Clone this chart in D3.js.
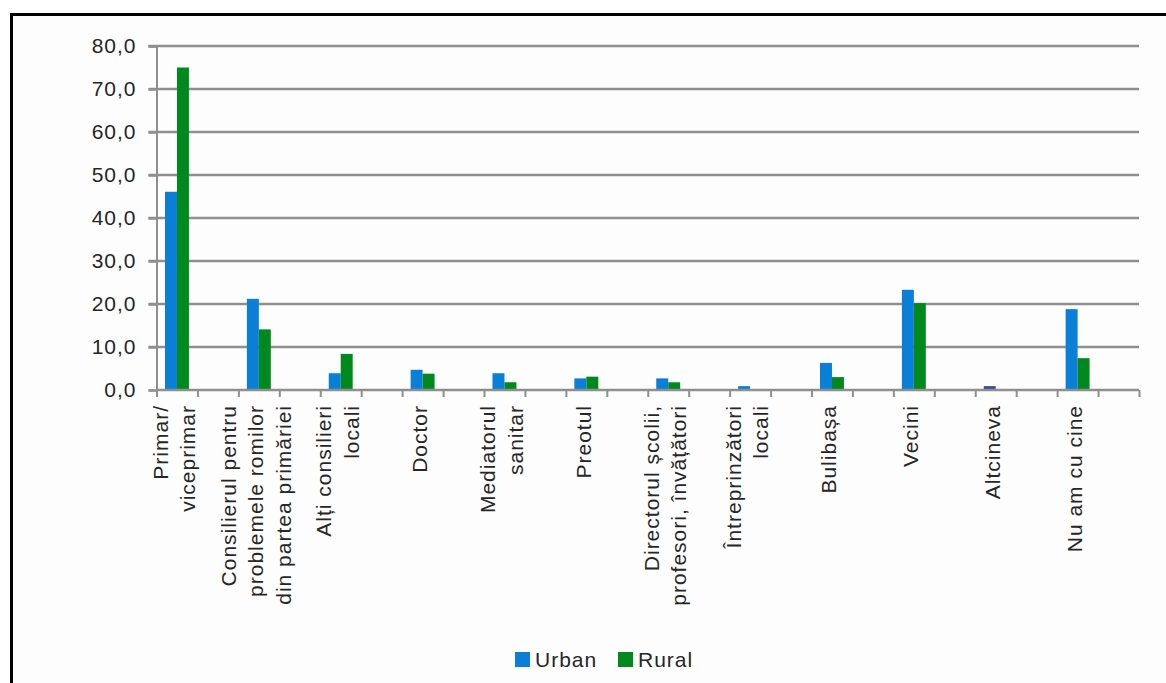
<!DOCTYPE html>
<html>
<head>
<meta charset="utf-8">
<script src="https://cdn.jsdelivr.net/npm/d3@7"></script>
<style>
  html, body { margin: 0; padding: 0; background: #ffffff; }
  svg { display: block; }
  text { font-family: "Liberation Sans", Arial, sans-serif; fill: #262626; }
</style>
</head>
<body>
<svg id="chart" width="1166" height="683"></svg>
<script>
// Categories (line breaks mark wrapped axis labels)
const categories = [
  "Primar/\nviceprimar",
  "Consilierul pentru\nproblemele romilor\ndin partea primăriei",
  "Alți consilieri\nlocali",
  "Doctor",
  "Mediatorul\nsanitar",
  "Preotul",
  "Directorul școlii,\nprofesori, învățători",
  "Întreprinzători\nlocali",
  "Bulibașa",
  "Vecini",
  "Altcineva",
  "Nu am cu cine"
];
const seriesNames = ["Urban", "Rural"];
const urban = [46.1, 21.2, 3.9, 4.7, 3.9, 2.7, 2.7, 0.9, 6.3, 23.3, 0.9, 18.8];
const rural = [75.0, 14.1, 8.4, 3.8, 1.8, 3.1, 1.8, 0.0, 3.0, 20.2, 0.0, 7.4];
const yTicks = [0, 10, 20, 30, 40, 50, 60, 70, 80];

// Colours
const seriesColors = { Urban: "#0a7fd8", Rural: "#02891e" };
const pointColors = { "Altcineva|Urban": "#3a4a94" };

const svg = d3.select("#chart");

// Outer frame
svg.append("rect")
  .attr("x", 11.5).attr("y", 14.5)
  .attr("width", 1200).attr("height", 720)
  .attr("fill", "#fdfdfd")
  .attr("stroke", "#000").attr("stroke-width", 3);

const plot = { left: 156.5, right: 1139, top: 46, bottom: 390 };

const y = d3.scaleLinear().domain([0, 80]).range([plot.bottom, plot.top]);
const x = d3.scaleBand().domain(categories).range([plot.left, plot.right]).padding(0);
// bars sit in the left half of each category band
const x1 = d3.scaleBand().domain(seriesNames)
  .range([0, x.bandwidth() / 2]).paddingInner(0).paddingOuter(0.71);
// tick slots: two per category
const slot = d3.scaleLinear().domain([0, categories.length * 2]).range([plot.left, plot.right]);

const locale = d3.formatLocale({ decimal: ",", thousands: ".", grouping: [3], currency: ["", ""] });
const fmt = locale.format(".1f");

const gridColor = "#8f8f8f";

// Gridlines
svg.append("g")
  .selectAll("line")
  .data(yTicks.filter(d => d > 0))
  .join("line")
  .attr("x1", plot.left - 8).attr("x2", plot.right)
  .attr("y1", d => y(d)).attr("y2", d => y(d))
  .attr("stroke", gridColor).attr("stroke-width", 2.5);

// Y axis
const yAxis = svg.append("g")
  .attr("transform", `translate(${plot.left},0)`)
  .call(d3.axisLeft(y).tickValues(yTicks).tickSize(8).tickPadding(12).tickFormat(fmt));
yAxis.select(".domain").attr("stroke", gridColor).attr("stroke-width", 2);
yAxis.selectAll(".tick line").attr("stroke", gridColor).attr("stroke-width", 2.5);
yAxis.selectAll(".tick text")
  .attr("font-size", 21).attr("letter-spacing", 1)
  .attr("fill", "#262626")
  .attr("font-family", "Liberation Sans, Arial, sans-serif");

// Bars
const rows = categories.map((c, i) => ({ cat: c, values: [
  { s: "Urban", v: urban[i] }, { s: "Rural", v: rural[i] }
] }));

svg.append("g")
  .selectAll("g")
  .data(rows)
  .join("g")
  .attr("transform", d => `translate(${x(d.cat)},0)`)
  .selectAll("rect")
  .data(d => d.values.map(v => ({ ...v, cat: d.cat })))
  .join("rect")
  .attr("x", d => x1(d.s))
  .attr("width", x1.bandwidth())
  .attr("y", d => y(d.v))
  .attr("height", d => y(0) - y(d.v))
  .attr("fill", d => pointColors[d.cat + "|" + d.s] || seriesColors[d.s]);

// X axis with ticks at every half category
const xAxis = svg.append("g")
  .attr("transform", `translate(0,${plot.bottom})`)
  .call(d3.axisBottom(slot).tickValues(d3.range(categories.length * 2 + 1)).tickSize(7).tickFormat(""));
xAxis.select(".domain").attr("stroke", gridColor).attr("stroke-width", 2.5)
  .attr("d", `M${plot.left},0H${plot.right}`);
xAxis.selectAll(".tick line").attr("stroke", gridColor).attr("stroke-width", 2);

// Rotated category labels
const lineH = 27.5;
const labelTop = plot.bottom + 15;
const lab = svg.append("g")
  .selectAll("text")
  .data(categories)
  .join("text")
  .attr("transform", d => `translate(${x(d) + x.bandwidth() / 4 - 3},${labelTop}) rotate(-90)`)
  .attr("text-anchor", "end")
  .attr("font-size", 21)
  .attr("letter-spacing", 1);
lab.each(function (d) {
  const lines = d.split("\n");
  const n = lines.length;
  d3.select(this).selectAll("tspan")
    .data(lines)
    .join("tspan")
    .attr("x", 0)
    .attr("y", (l, i) => (i - (n - 1) / 2) * lineH + 7.5)
    .text(l => l);
});

// Legend
const legend = svg.append("g").attr("transform", "translate(515,652)");
const items = legend.selectAll("g")
  .data(seriesNames)
  .join("g")
  .attr("transform", (d, i) => `translate(${i * 103},0)`);
items.append("rect")
  .attr("width", 15).attr("height", 15)
  .attr("fill", d => seriesColors[d]);
items.append("text")
  .attr("x", 20).attr("y", 15)
  .attr("font-size", 21).attr("letter-spacing", 1)
  .text(d => d);
</script>
</body>
</html>
